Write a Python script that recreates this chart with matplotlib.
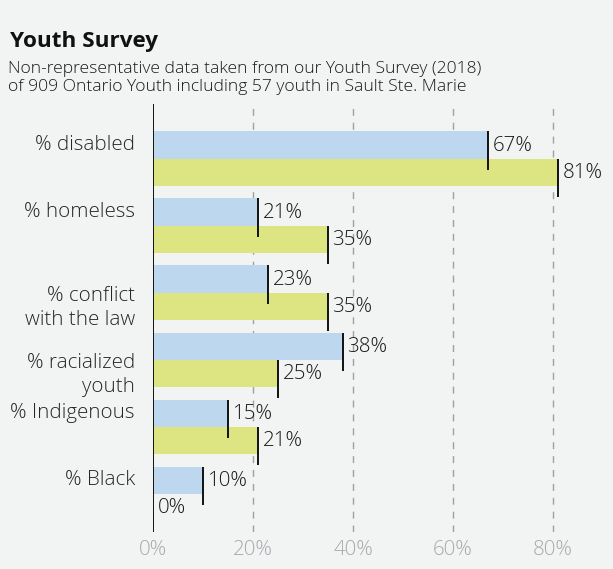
import matplotlib
matplotlib.use("Agg")
import matplotlib.pyplot as plt

# Survey results (percent of respondents)
categories = ["% disabled", "% homeless", "% conflict\nwith the law",
              "% racialized\nyouth", "% Indigenous", "% Black"]
series_a = [67, 21, 23, 38, 15, 10]   # blue series
series_b = [81, 35, 35, 25, 21, 0]    # green series
tick_values = [0, 20, 40, 60, 80]
tick_labels = ["0%", "20%", "40%", "60%", "80%"]

title = "Youth Survey"
subtitle = ("Non-representative data taken from our Youth Survey (2018)\n"
            "of 909 Ontario Youth including 57 youth in Sault Ste. Marie")

BG = "#f2f3f3"
BLUE = "#bdd7ee"
GREEN = "#dce582"
TEXT = "#1a1a1a"

plt.rcParams["font.family"] = ["Open Sans", "DejaVu Sans"]
FS = 14.8
WT = 300

W, H = 613, 569
fig = plt.figure(figsize=(W / 100, H / 100), dpi=100, facecolor=BG)

left_px, right_px, top_px, bottom_px = 153, 613, 104, 532
ax = fig.add_axes([left_px / W, 1 - bottom_px / H,
                   (right_px - left_px) / W, (bottom_px - top_px) / H])
ax.set_facecolor(BG)

bar_h = 0.41
n = len(categories)
ys = list(range(n))

ax.set_xlim(0, (right_px - left_px) / 5.0)
ax.set_ylim(n - 1 + 0.567, -0.82)

# gridlines
for v in tick_values[1:]:
    ax.axvline(v, color="#a0a0a0", lw=1.0, ls=(0, (5, 5)), zorder=0)

ya = [y - bar_h / 2 for y in ys]
yb = [y + bar_h / 2 for y in ys]
ax.barh(ya, series_a, height=bar_h, color=BLUE, zorder=2)
ax.barh(yb, series_b, height=bar_h, color=GREEN, zorder=2)

ext = 0.16
for yc, vals in ((ya, series_a), (yb, series_b)):
    for y, v in zip(yc, vals):
        if v > 0:
            ax.vlines(v, y - bar_h / 2, y + bar_h / 2 + ext,
                      color="#111111", lw=1.4, zorder=3)
        ax.text(v + 0.9, y + 0.01, f"{v}%", ha="left", va="center",
                fontsize=FS, fontweight=WT, color=TEXT, zorder=4)

# zero axis
ax.axvline(0, color="#111111", lw=1.4, zorder=3)

# category labels
for y, lab in zip(ys, categories):
    off = 0.22 if "\n" in lab else -0.21
    ax.text(-3.6, y + off, lab, ha="right", va="center", fontsize=FS,
            fontweight=WT, color="#262626", linespacing=1.25, clip_on=False)

ax.set_yticks([])
ax.set_xticks(tick_values)
ax.set_xticklabels(tick_labels, fontsize=FS, fontweight=WT, color="#a9a9ae")
ax.tick_params(axis="x", length=0, pad=6)
for s in ax.spines.values():
    s.set_visible(False)

fig.text(10 / W, 1 - 41 / H, title, fontsize=16.2, fontweight="bold",
         color="#111111", va="center", ha="left")
fig.text(8 / W, 1 - 78 / H, subtitle, fontsize=12.6, fontweight=WT,
         color="#1a1a1a", va="center", ha="left", linespacing=1.2)

fig.savefig("out.png", dpi=100, facecolor=BG)
